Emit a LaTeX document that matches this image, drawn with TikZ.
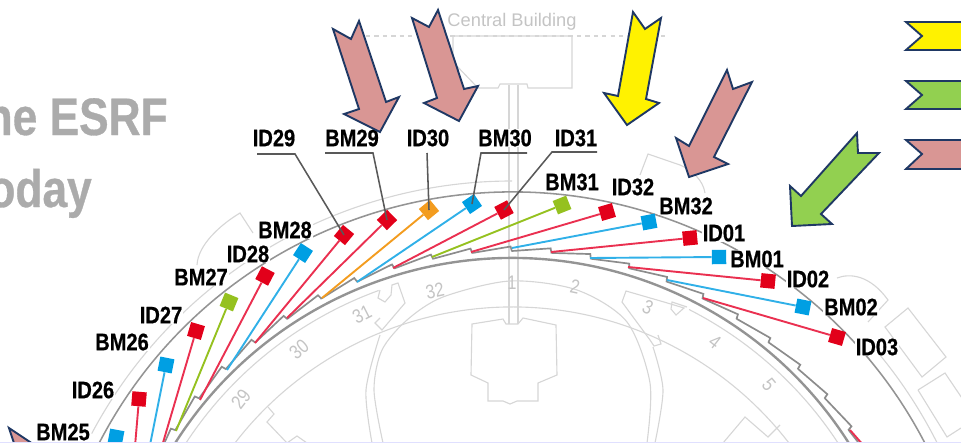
\documentclass[tikz,border=0pt]{standalone}
\usepackage{fontspec}
\setmainfont{Liberation Sans}
\newfontfamily\labelfont[FakeStretch=0.84, BoldFeatures={FakeBold=0.6}]{Liberation Sans}
\usetikzlibrary{positioning}
\definecolor{idred}{HTML}{E2001A}
\definecolor{bmblue}{HTML}{009FE3}
\definecolor{bmgreen}{HTML}{95C11F}
\definecolor{idorange}{HTML}{F39C1F}
\definecolor{linered}{HTML}{EA3050}
\definecolor{lineblue}{HTML}{30B0E8}
\definecolor{arrowline}{HTML}{1F3864}
\definecolor{arrowpink}{HTML}{D99694}
\definecolor{arrowgreen}{HTML}{92D050}
\definecolor{planline}{HTML}{D6D6D6}
\definecolor{planfont}{HTML}{C4C4C4}
\tikzset{
  beamsq/.style={draw=none, fill=#1, minimum size=3.6mm, inner sep=0pt},
  beamline/.style={draw=#1, line width=1.35pt},
  beamlabel/.style={font=\labelfont\bfseries\fontsize{17}{17}\selectfont, fill=white, inner sep=0.6pt},
  leader/.style={draw=black!65, line width=1.1pt},
  planpath/.style={draw=planline, line width=0.8pt},
  ringpath/.style={draw=black!42, line width=1.1pt},
  cellnum/.style={font=\labelfont\fontsize{14}{14}\selectfont, text=planfont, inner sep=0pt},
  bigarrow/.style={draw=arrowline, fill=#1, line width=1.35pt, line join=miter},
}
\begin{document}
\begin{tikzpicture}[x=0.25mm, y=0.25mm]
    \useasboundingbox (0,0) rectangle (961,-443);
    \clip (0,0) rectangle (961,-443);
    % faded title and plan behind the beamlines
    \node[font=\labelfont\bfseries\fontsize{37.5}{37.5}\selectfont, text=black!33, anchor=base east, inner sep=0pt] (title1) at (168,-135) {the ESRF};
    \node[font=\labelfont\bfseries\fontsize{37.5}{37.5}\selectfont, text=black!33, anchor=base east, inner sep=0pt] (title2) at (92,-207) {today};
    \node[font=\fontsize{13}{13}\selectfont, text=planfont, inner sep=0pt] (central) at (512,-22) {Central Building};
    \draw[planpath, dashed] (366,-36) -- (668,-36);
    \draw[planpath] (453,-36) -- (572,-36) -- (572,-88) -- (528,-88) -- (527,-84) -- (500,-84) -- (498,-88) -- (478,-88) -- (453,-62) -- cycle;
    \draw[planpath] (509,-85) -- (509,-324);
    \draw[planpath] (518,-85) -- (518,-324);
    \draw[planpath] (472,-324) -- (503,-319) -- (506,-324) -- (518,-324) -- (523,-318) -- (556,-325) -- (557,-375) -- (538,-383) -- (538,-401) -- (517,-401) -- (510,-404) -- (503,-401) -- (488,-401) -- (488,-383) -- (471,-375) -- cycle;
    \draw[planpath, shift={(512,-657)}] (152:350) arc[start angle=152, end angle=28, radius=350];
    \draw[planpath, shift={(512,-657)}] (152:476) arc[start angle=152, end angle=90, radius=476];
    \draw[planpath, shift={(512,-657)}] (42:476) arc[start angle=42, end angle=26, radius=476];
    \draw[planpath, shift={(512,-657)}] (152:390) arc[start angle=152, end angle=110, radius=390];
    \draw[planpath, shift={(512,-657)}] (63:390) arc[start angle=63, end angle=30, radius=390];
    \draw[planpath] plot[smooth] coordinates {(383,-443) (374,-390) (382,-350) (407,-320) (443,-297) (510,-281) (577,-290) (627,-322) (650,-383) (647,-443)};
    \draw[planpath] plot[smooth] coordinates {(372,-443) (366,-390) (380,-335)};
    \draw[planpath] plot[smooth] coordinates {(653,-347) (663,-390) (655,-443)};
    \draw[planpath] (380,-290) -- (378,-298) -- (385,-302) -- (391,-295) -- (392,-285) -- (398,-283) -- (405,-303) -- (382,-330) -- (375,-323) -- (380,-318);
    \draw[planpath] (687,-307) -- (672,-302) -- (671,-309) -- (676,-315) -- (684,-308) -- (664,-302) -- (626,-291) -- (622,-302) -- (650,-340) -- (654,-346) -- (661,-344) -- (658,-335);
    \draw[planpath] (268,-407) -- (274,-414) -- (267,-422) -- (287,-443) -- (297,-436) -- (307,-443);
    \draw[planpath] (723,-443) -- (745,-417) -- (768,-437) -- (780,-425);
    \draw[planpath] (197,-265) .. controls (198,-245) and (220,-225) .. (240,-213) -- (253,-233);
    \draw[planpath] (640,-175) -- (648,-154) -- (680,-165) .. controls (692,-170) and (703,-180) .. (705,-193);
    \draw[planpath] (837,-278) .. controls (850,-273) and (870,-275) .. (888,-300) -- (868,-322);
    \draw[planpath] (885,-327) -- (908,-308) -- (946,-357) -- (922,-377) -- cycle;
    \draw[planpath] (918,-390) -- (945,-373) -- (970,-410);
    \draw[planpath] (918,-390) -- (947,-437) -- (961,-428);
    \node[cellnum] (cell1) at (512,-283) {1};
    \node[cellnum, rotate=-12] (cell2) at (575,-287) {2};
    \node[cellnum, rotate=-25] (cell3) at (648,-307) {3};
    \node[cellnum, rotate=-38] (cell4) at (715,-342) {4};
    \node[cellnum, rotate=-50] (cell5) at (769,-385) {5};
    \node[cellnum, rotate=12] (cell32) at (435,-291) {32};
    \node[cellnum, rotate=27] (cell31) at (362,-314) {31};
    \node[cellnum, rotate=40] (cell30) at (299,-349) {30};
    \node[cellnum, rotate=52] (cell29) at (241,-399) {29};
    % storage ring with its sawtooth wall
    \draw[ringpath, shift={(512,-657)}] (153:465) arc[start angle=153, end angle=27, radius=465];
    \draw[draw=black!42, line width=1.7pt, shift={(512,-657)}] (153:399) arc[start angle=153, end angle=27, radius=399];
    \foreach \n in {-13,...,11} {
        \pgfmathsetmacro\a{\n*5.6}
        \draw[draw=black!45, line width=1.2pt, shift={(512,-657)}] (90-\a:406) -- (90-\a-5.4:410.5) -- (90-\a-5.6:405.5);
    }
    % name, square, start of line on the wall, colours, label
    \foreach \name/\sx/\sy/\ex/\ey/\col/\lin/\lx/\ly in {
        ID29/344/235/255/343/idred/linered/274/138, BM29/387/220/287/318/idred/linered/352/138,
        ID30/429/210/322/298/idorange/idorange/428/138, BM30/472/204/357/282/bmblue/lineblue/505/138,
        ID31/504/210/393/268/idred/linered/576/138, BM31/562/205/432/257/bmgreen/bmgreen/572/182,
        ID32/607/212/471/252/idred/linered/633/187, BM32/649/222/512/248/bmblue/lineblue/686/206,
        ID01/690/238/551/252/idred/linered/724/233, BM01/719/257/590/258/bmblue/lineblue/757/259,
        ID02/768/281/628/267/idred/linered/808/279, BM02/803/307/667/280/bmblue/lineblue/851/307,
        ID03/837/337/703/298/idred/linered/877/347, BM28/303/253/227/370/bmblue/lineblue/285/230,
        ID28/265/276/200/400/idred/linered/248/254, BM27/229/302/176/431/bmgreen/bmgreen/201/277,
        ID27/196/331/157/463/idred/linered/161/315, BM26/166/365/145/470/bmblue/lineblue/122/342,
        ID26/139/399/133/470/idred/linered/93/390, BM25/116/437/108/480/bmblue/lineblue/63/432} {
        \pgfmathsetmacro\rot{atan2(\ey-\sy,\sx-\ex)}
        \node[beamlabel] (lab\name) at (\lx,-\ly) {\name};
        \coordinate (st\name) at (\ex,-\ey);
        \node[beamsq=\col, rotate=\rot] (sq\name) at (\sx,-\sy) {};
        \draw[beamline=\lin] (sq\name) -- (st\name);
    }
    \coordinate (stID04) at (850,-430);
    \coordinate (enID04) at (864,-446);
    \draw[beamline=linered] (stID04) -- (enID04);
    % leaders from the labels above the ring
    \coordinate (ulID29a) at (257,-154);
    \coordinate (ulID29b) at (295,-154);
    \coordinate (ulBM29a) at (325,-153);
    \coordinate (ulBM29b) at (373,-153);
    \coordinate (ulID30) at (427,-153);
    \coordinate (ulBM30a) at (481,-153);
    \coordinate (ulBM30b) at (527,-153);
    \coordinate (ulID31a) at (552,-152);
    \coordinate (ulID31b) at (597,-152);
    \draw[leader] (ulID29a) -- (ulID29b) -- (sqID29.center);
    \draw[leader] (ulBM29a) -- (ulBM29b) -- (sqBM29.center);
    \draw[leader] (ulID30) -- (sqID30.center);
    \draw[leader] (ulBM30b) -- (ulBM30a) -- (sqBM30.center);
    \draw[leader] (ulID31b) -- (ulID31a) -- (sqID31.center);
    % block arrows
    \draw[bigarrow=arrowpink] (333,-29) -- (351,-39) -- (359,-21) -- (386,-102) -- (399,-97) -- (380,-132) -- (344,-114) -- (359,-109) -- cycle;
    \draw[bigarrow=arrowpink] (412,-18) -- (429,-27) -- (438,-10) -- (464,-89) -- (478,-86) -- (459,-121) -- (424,-103) -- (437,-98) -- cycle;
    \draw[bigarrow=yellow] (633,-12) -- (645,-29) -- (661,-18) -- (646,-99) -- (659,-103) -- (627,-125) -- (604,-93) -- (618,-96) -- cycle;
    \draw[bigarrow=arrowpink] (727,-70) -- (733,-89) -- (752,-82) -- (714,-157) -- (728,-164) -- (689,-177) -- (676,-138) -- (689,-146) -- cycle;
    \draw[bigarrow=arrowgreen] (857,-133) -- (858,-153) -- (879,-153) -- (821,-214) -- (832,-224) -- (792,-226) -- (790,-186) -- (801,-196) -- cycle;
    \draw[bigarrow=arrowpink] (9,-428) -- (36,-446) -- (15,-446) -- cycle;
    % legend ribbons, cut by the right edge
    \draw[bigarrow=yellow] (906,-22) -- (975,-22) -- (975,-50) -- (906,-50) -- (922,-36) -- cycle;
    \draw[bigarrow=arrowgreen] (906,-81) -- (975,-81) -- (975,-109) -- (906,-109) -- (922,-95) -- cycle;
    \draw[bigarrow=arrowpink] (906,-140) -- (975,-140) -- (975,-169) -- (906,-169) -- (922,-154) -- cycle;
    \coordinate (edgeL) at (0,-442.3);
    \coordinate (edgeR) at (961,-442.3);
    \draw[blue!12, line width=1pt] (edgeL) -- (edgeR);
\end{tikzpicture}
\end{document}
